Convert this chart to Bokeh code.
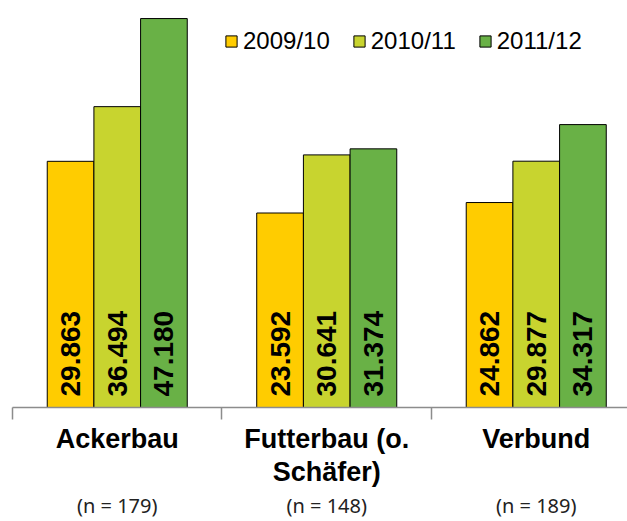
from bokeh.plotting import figure
from bokeh.models import (ColumnDataSource, Range1d, FixedTicker, LinearAxis,
                          Legend, LegendItem)
from bokeh.transform import dodge
from bokeh.core.properties import value
from bokeh.embed import file_html
from bokeh.resources import INLINE

# ---- data ----
categories = ["Ackerbau", "Futterbau (o.\nSchäfer)", "Verbund"]
n_labels = ["(n = 179)", "(n = 148)", "(n = 189)"]
years = ["2009/10", "2010/11", "2011/12"]
v_2009_10 = [29863, 23592, 24862]
v_2010_11 = [36494, 30641, 29877]
v_2011_12 = [47180, 31374, 34317]
colors = ["#FFCC00", "#C8D42F", "#69B146"]

series = [v_2009_10, v_2010_11, v_2011_12]
centers = [i + 0.5 for i in range(len(categories))]
bar_w = 0.2228
offsets = [-bar_w, 0.0, bar_w]

p = figure(width=627, height=521, output_backend="svg", toolbar_location=None,
           x_range=Range1d(0, 2.9356), y_range=Range1d(0, 48400),
           min_border_left=12, min_border_right=0, min_border_top=8,
           min_border_bottom=113)
p.outline_line_color = None
p.xgrid.visible = False
p.ygrid.visible = False
p.yaxis.visible = False
p.background_fill_color = "white"
p.border_fill_color = "white"

FONT = "Liberation Sans"

renderers = []
for vals, off, col in zip(series, offsets, colors):
    src = ColumnDataSource(dict(
        x=centers, top=vals,
        lab=[f"{v:,}".replace(",", ".") for v in vals],
        zero=[0] * len(vals)))
    r = p.vbar(x=dodge("x", off, range=p.x_range), top="top", width=bar_w,
               source=src, fill_color=col, line_color="black", line_width=1)
    renderers.append(r)
    p.text(x=dodge("x", off, range=p.x_range), y="zero", text="lab", source=src,
           angle=1.5708, text_align="left", text_baseline="middle",
           y_offset=-11, text_font=value(FONT), text_font_style="bold",
           text_font_size="28px", text_color="black")

# category axis (ticks at boundaries, labels centred)
ax = p.xaxis[0]
ax.ticker = FixedTicker(ticks=centers, minor_ticks=[0, 1, 2, 3])
ax.major_label_overrides = {c: lab for c, lab in zip(centers, categories)}
ax.major_tick_out = 0
ax.major_tick_in = 0
ax.minor_tick_out = 12
ax.minor_tick_in = 0
ax.minor_tick_line_color = "#8c8c8c"
ax.minor_tick_line_width = 1.5
ax.axis_line_color = "#8c8c8c"
ax.axis_line_width = 1.5
ax.major_label_text_font = FONT
ax.major_label_text_font_style = "bold"
ax.major_label_text_font_size = "27px"
ax.major_label_text_color = "black"
ax.major_label_text_line_height = 1.13
ax.major_label_standoff = 4

# n-count axis under the category names
ax2 = LinearAxis(ticker=FixedTicker(ticks=centers),
                 major_label_overrides={c: lab for c, lab in zip(centers, n_labels)})
ax2.axis_line_color = None
ax2.major_tick_line_color = None
ax2.minor_tick_line_color = None
ax2.major_tick_out = 0
ax2.major_tick_in = 0
ax2.major_label_text_font = "Noto Sans"
ax2.major_label_text_font_size = "20px"
ax2.major_label_text_color = "#222222"
ax2.major_label_standoff = 1
p.add_layout(ax2, "below")

legend = Legend(items=[LegendItem(label=y, renderers=[r]) for y, r in zip(years, renderers)],
                orientation="horizontal", location=(212, 352),
                glyph_width=14, glyph_height=14, label_standoff=5, spacing=22,
                label_text_font=FONT, label_text_font_size="24px",
                label_text_color="black", padding=0, margin=0,
                background_fill_alpha=0, border_line_alpha=0)
p.add_layout(legend)

open("out.html", "w").write(file_html(p, INLINE))
